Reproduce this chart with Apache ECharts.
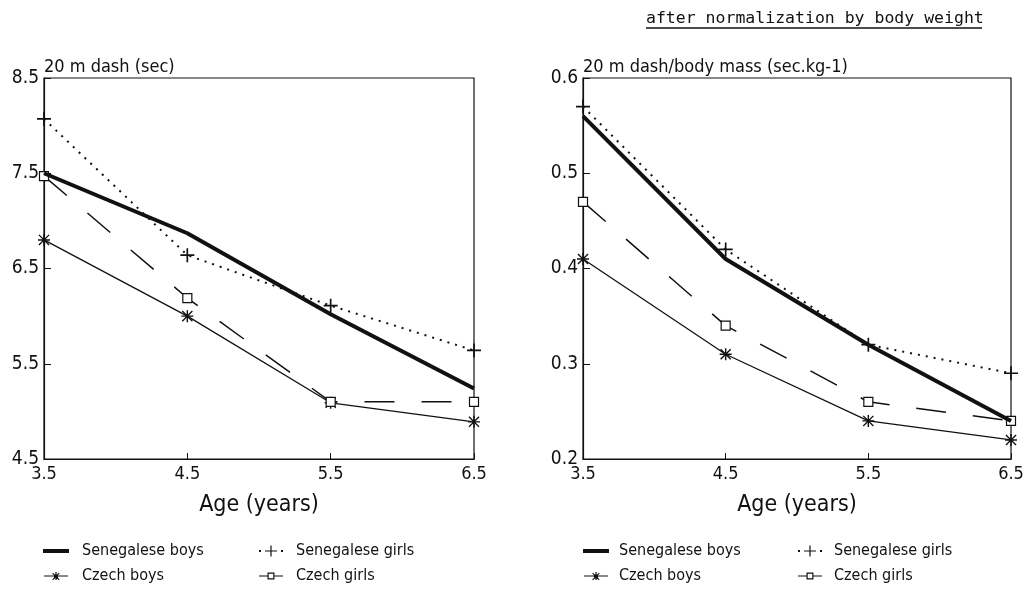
<!DOCTYPE html>
<html>
<head>
<meta charset="utf-8">
<script src="https://cdn.jsdelivr.net/npm/echarts@6/dist/echarts.min.js"></script>
<style>
  html, body { margin: 0; padding: 0; background: #fff; }
  #chart { width: 1033px; height: 590px; }
</style>
</head>
<body>
<div id="chart"></div>
<script>
const ages = ['3.5', '4.5', '5.5', '6.5'];

// 20 m dash (sec)
const dashSenBoys = [7.5, 6.87, 6.02, 5.24];
const dashSenGirls = [8.07, 6.64, 6.11, 5.64];
const dashCzBoys = [6.8, 6.0, 5.09, 4.89];
const dashCzGirls = [7.47, 6.19, 5.1, 5.1];

// 20 m dash / body mass (sec.kg-1)
const normSenBoys = [0.56, 0.41, 0.32, 0.24];
const normSenGirls = [0.57, 0.42, 0.32, 0.29];
const normCzBoys = [0.41, 0.31, 0.24, 0.22];
const normCzGirls = [0.47, 0.34, 0.26, 0.24];

const names = ['Senegalese boys', 'Senegalese girls', 'Czech boys', 'Czech girls'];

const ink = '#111';
const font = '"DejaVu Sans Condensed", "DejaVu Sans", sans-serif';

// marker shapes (filled paths, so strokes are drawn as thin bars)
const plusSym = 'path://M0,4.4h10v1.2h-10z M4.4,0h1.2v10h-1.2z';
const starSym = 'path://M0,4.4h10v1.2h-10z M4.4,0h1.2v10h-1.2z M1.2,0.4L9.6,8.8L8.8,9.6L0.4,1.2z M8.8,0.4L9.6,1.2L1.2,9.6L0.4,8.8z';

// legend icons, 26 x 14 box (tiny corner dots keep the box size)
const legendIcons = [
  'path://M0,5h26v4h-26z',
  'path://M0,0h0.01v0.01h-0.01z M26,14h0.01v0.01h-0.01z M1,6h2v2h-2z M23,6h2v2h-2z M7,6.4h12v1.2h-12z M12.4,1.5h1.2v11h-1.2z',
  'path://M0,0h0.01v0.01h-0.01z M26,14h0.01v0.01h-0.01z M1,6.4h24v1.2h-24z M12.4,3h1.2v8h-1.2z M9,6.4h8v1.2h-8z M10,3.8L16.6,10.4L15.8,11.2L9.2,4.6z M15.8,3.8L16.6,4.6L10,11.2L9.2,10.4z M11,5.5h4v3h-4z',
  'path://M0,0h0.01v0.01h-0.01z M26,14h0.01v0.01h-0.01z M1,6.4h8.5v1.2h-8.5z M16.5,6.4h8.5v1.2h-8.5z M9.5,3.5h7v7h-7z M10.7,4.7v4.6h4.6v-4.6z'
];

function seriesFor(idx, vals) {
  const [sb, sg, cb, cg] = vals;
  return [
    {
      name: names[0], type: 'line', xAxisIndex: idx, yAxisIndex: idx, data: sb,
      symbol: 'none', lineStyle: { color: ink, width: 4 }, itemStyle: { color: ink }, z: 5
    },
    {
      name: names[1], type: 'line', xAxisIndex: idx, yAxisIndex: idx, data: sg,
      symbol: plusSym, symbolSize: 14,
      lineStyle: { color: ink, width: 2, type: [2, 6] }, itemStyle: { color: ink }
    },
    {
      name: names[2], type: 'line', xAxisIndex: idx, yAxisIndex: idx, data: cb,
      symbol: starSym, symbolSize: 12,
      lineStyle: { color: ink, width: 1.3 }, itemStyle: { color: ink }
    },
    {
      name: names[3], type: 'line', xAxisIndex: idx, yAxisIndex: idx, data: cg,
      symbol: 'rect', symbolSize: 9,
      lineStyle: { color: ink, width: 1.5, type: [30, 27] },
      itemStyle: { color: '#fff', borderColor: ink, borderWidth: 1.2 }
    }
  ];
}

function xAxisFor(idx) {
  return {
    type: 'category', gridIndex: idx, data: ages, boundaryGap: false,
    name: 'Age (years)', nameLocation: 'middle', nameGap: 35,
    nameTextStyle: { color: ink, fontSize: 23, fontFamily: font },
    axisLine: { lineStyle: { color: ink, width: 1.2 } },
    axisTick: { inside: true, length: 6, lineStyle: { color: ink } },
    axisLabel: { color: ink, fontSize: 18, fontFamily: font, margin: 6 },
    splitLine: { show: false }
  };
}

function yAxisFor(idx, name, min, max, interval) {
  return {
    type: 'value', gridIndex: idx, min: min, max: max, interval: interval,
    name: name, nameLocation: 'end', nameGap: 2,
    nameTextStyle: { color: ink, fontSize: 18, fontFamily: font, align: 'left', verticalAlign: 'bottom' },
    axisLine: { show: true, lineStyle: { color: ink, width: 1.2 } },
    axisTick: { show: true, inside: true, length: 7, lineStyle: { color: ink } },
    axisLabel: { color: ink, fontSize: 19, fontFamily: font, margin: 5, formatter: v => v.toFixed(1) },
    splitLine: { show: false }
  };
}

// one legend per item so the 2 x 2 layout is exact
function legendItem(i, left, top, textGap) {
  return {
    left: left, top: top, padding: 0, itemWidth: 26, itemHeight: 14, selectedMode: false,
    data: [{ name: names[i], icon: legendIcons[i], itemStyle: { color: ink, borderWidth: 0 } }],
    textStyle: { color: ink, fontSize: 16, fontFamily: font, padding: [0, 0, 0, textGap - 5] }
  };
}

const row1 = 543, row2 = 568;

const chart = echarts.init(document.getElementById('chart'));
chart.setOption({
  animation: false,
  backgroundColor: '#fff',
  grid: [
    { left: 44, top: 78, width: 430, height: 381, show: true, borderColor: ink, borderWidth: 1.2 },
    { left: 583, top: 78, width: 428, height: 381, show: true, borderColor: ink, borderWidth: 1.2 }
  ],
  xAxis: [xAxisFor(0), xAxisFor(1)],
  yAxis: [
    yAxisFor(0, '20 m dash (sec)', 4.5, 8.5, 1),
    yAxisFor(1, '20 m dash/body mass (sec.kg-1)', 0.2, 0.6, 0.1)
  ],
  legend: [
    legendItem(0, 43, row1, 13),
    legendItem(2, 43, row2, 13),
    legendItem(1, 258, row1, 12),
    legendItem(3, 258, row2, 12),
    legendItem(0, 583, row1, 10),
    legendItem(2, 583, row2, 10),
    legendItem(1, 797, row1, 11),
    legendItem(3, 797, row2, 11)
  ],
  graphic: [
    {
      type: 'text', left: 646, top: 10,
      style: { text: 'after normalization by body weight', fill: ink, font: '16.5px "DejaVu Sans Mono", monospace' }
    },
    {
      type: 'line', shape: { x1: 646, y1: 28, x2: 982, y2: 28 },
      style: { stroke: ink, lineWidth: 1.3 }
    }
  ],
  series: [
    ...seriesFor(0, [dashSenBoys, dashSenGirls, dashCzBoys, dashCzGirls]),
    ...seriesFor(1, [normSenBoys, normSenGirls, normCzBoys, normCzGirls])
  ]
});
</script>
</body>
</html>
